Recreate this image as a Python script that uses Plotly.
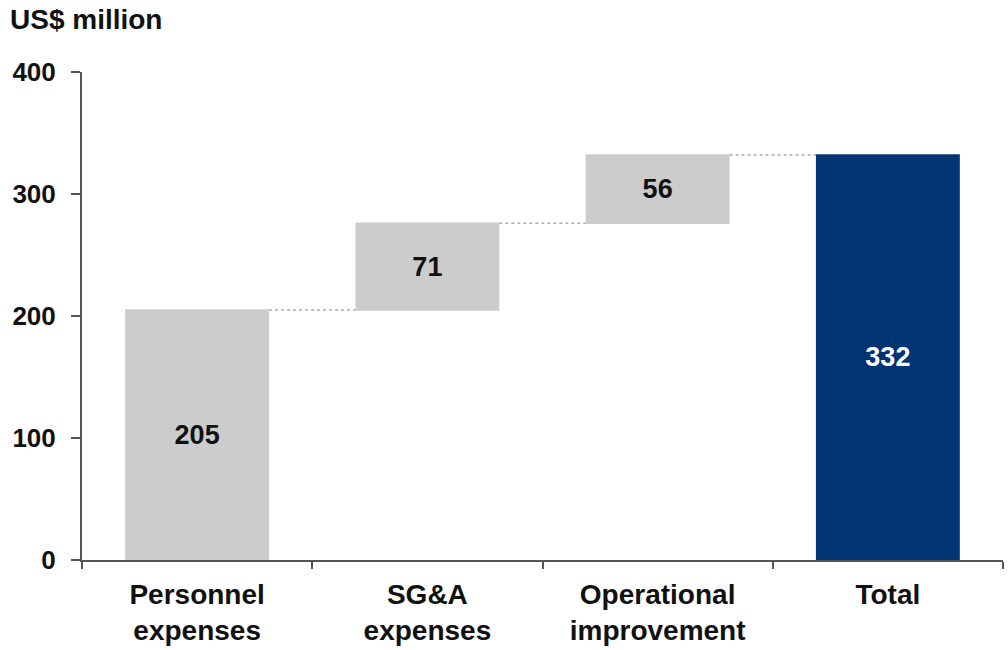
import plotly.graph_objects as go

# Savings bridge, US$ million
categories = ["Personnel<br>expenses", "SG&A<br>expenses", "Operational<br>improvement", "Total"]
values = [205, 71, 56, 332]
measures = ["relative", "relative", "relative", "total"]
labels = ["205", "71", "56", "332"]
label_colors = ["#111111", "#111111", "#111111", "#ffffff"]

GREY = "#cccccc"
NAVY = "#003473"
AXIS = "#555555"
FONT = "Liberation Sans, Arial, sans-serif"

fig = go.Figure(
    go.Waterfall(
        x=categories,
        y=values,
        measure=measures,
        text=["<b>" + t + "</b>" for t in labels],
        textposition="inside",
        insidetextanchor="middle",
        textfont=dict(family=FONT, size=27, color=label_colors),
        increasing=dict(marker=dict(color=GREY, line=dict(width=0))),
        decreasing=dict(marker=dict(color=GREY, line=dict(width=0))),
        totals=dict(marker=dict(color=NAVY, line=dict(width=0))),
        connector=dict(line=dict(color="#aaaaaa", width=1.5, dash="dot")),
        width=0.625,
        hoverinfo="skip",
    )
)

fig.update_layout(
    width=1008,
    height=650,
    margin=dict(l=82, r=5, t=72, b=90),
    paper_bgcolor="white",
    plot_bgcolor="white",
    showlegend=False,
    font=dict(family=FONT, size=24, color="#111111"),
    uniformtext=dict(minsize=10, mode="show"),
    annotations=[
        dict(
            text="<b>US$ million</b>",
            xref="paper", yref="paper",
            x=(8 - 82) / 921, y=1 + 53 / 488,
            xanchor="left", yanchor="middle",
            showarrow=False,
            font=dict(family=FONT, size=28, color="#111111"),
        )
    ],
)

fig.update_xaxes(
    type="category",
    showline=True, linecolor=AXIS, linewidth=2,
    ticks="outside", tickson="boundaries", ticklen=7, tickcolor=AXIS, tickwidth=2,
    ticklabelstandoff=8,
    tickfont=dict(family=FONT, size=28, color="#111111"),
    tickprefix="<b>", ticksuffix="</b>",
    showgrid=False, zeroline=False,
    fixedrange=True,
)

fig.update_yaxes(
    range=[0, 400],
    tickvals=[0, 100, 200, 300, 400],
    ticktext=["<b>0</b>", "<b>100</b>", "<b>200</b>", "<b>300</b>", "<b>400</b>"],
    showline=True, linecolor=AXIS, linewidth=2,
    ticks="outside", ticklen=9, tickcolor=AXIS, tickwidth=2,
    ticklabelstandoff=10,
    tickfont=dict(family=FONT, size=26, color="#111111"),
    showgrid=False, zeroline=False,
    fixedrange=True,
)

fig.write_html("out.html")
